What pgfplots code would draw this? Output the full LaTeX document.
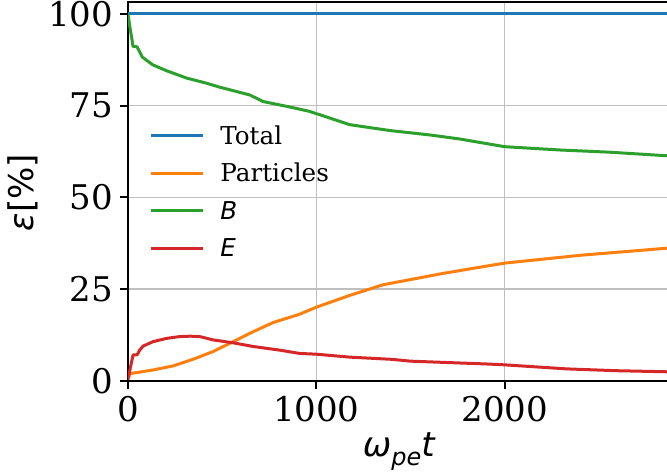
\documentclass[border=0pt]{standalone}
\usepackage{pgfplots}
\pgfplotsset{compat=1.18}
\usepackage{fontspec}
\setmainfont{DejaVu Serif}
\newfontfamily\dvs{DejaVu Sans}
\definecolor{tabblue}{HTML}{1F77B4}
\definecolor{taborange}{HTML}{FF7F0E}
\definecolor{tabgreen}{HTML}{2CA02C}
\definecolor{tabred}{HTML}{D62728}
\pgfplotsset{mylegimg/.style={legend image code/.code={\draw[##1, line width=1.5pt] (0pt,4.3pt) -- (26pt,4.3pt);}}}
\begin{document}
\begin{tikzpicture}
\begin{axis}[
  at={(0,0)}, anchor=south west,
  scale only axis, width=271pt, height=189.5pt,
  xmin=0, xmax=2878, ymin=0, ymax=103.2,
  xtick={0,1000,2000}, ytick={0,25,50,75,100},
  grid=major, grid style={color=black!25, line width=0.8pt},
  axis line style={line width=1.2pt, black},
  tick align=outside, major tick length=4pt,
  tick style={line width=1pt, black},
  tick pos=left,
  ticklabel style={font=\fontsize{17}{17}\selectfont},
  /pgf/number format/assume math mode=true,
  scaled x ticks=false,
  x tick label style={/pgf/number format/1000 sep={}},
  legend style={draw=none, fill=none, font=\fontsize{12.3}{12.3}\selectfont,
    at={(rel axis cs:0,1)}, anchor=north west, xshift=10.5pt, yshift=-62.3pt,
    inner sep=0pt, row sep=9.9pt, column sep=8pt,
    nodes={inner sep=0pt, text height=8.8pt, text depth=0pt, anchor=base west}},
  legend cell align=left,
  mylegimg,
  every axis plot/.append style={line width=1.5pt, line join=round},
]
\addplot[tabblue, no marks] coordinates {(0,100) (2870,100)};
\addlegendentry{Total}
\addplot[taborange, no marks] coordinates {
(0,0.5) (10,2) (133,3.0) (239,4.1) (345,5.9) (451,8.0) (558,10.7) (664,13.4)
(770,15.9) (912,18.2) (1000,20.1) (1177,23.3) (1354,26.2) (1673,29.3)
(2000,32.1) (2416,34.3) (2682,35.4) (2870,36.2)};
\addlegendentry{Particles}
\addplot[tabgreen, no marks] coordinates {
(0,100) (8,97) (27,91.1) (48,91) (76,88.2) (131,86.1) (204,84.5) (310,82.5)
(416,81.1) (487,80.0) (540,79.3) (646,77.9) (717,76.1) (860,74.6) (965,73.4)
(1177,69.8) (1390,68.2) (1602,67.0) (1761,65.9) (2000,63.8) (2293,62.9)
(2558,62.3) (2870,61.3)};
\addlegendentry{{\dvs\itshape B}}
\addplot[tabred, no marks] coordinates {
(0,0.5) (10,3) (27,7.1) (48,7.1) (62,8.4) (80,9.5) (133,10.7) (204,11.6)
(275,12.1) (330,12.2) (381,12.1) (451,11.2) (558,10.4) (664,9.4) (806,8.4)
(912,7.5) (1000,7.3) (1177,6.5) (1400,5.9) (1500,5.4) (1711,5.0) (1921,4.6)
(2000,4.4) (2328,3.3) (2594,2.8) (2870,2.5)};
\addlegendentry{{\dvs\itshape E}}
\end{axis}
\node[rotate=90, anchor=center, font=\fontsize{17}{17}\selectfont] at (-52.5pt,94.25pt) {{\dvs\itshape ε\upshape[\%]}};
\node[anchor=base, font=\fontsize{17}{17}\selectfont] at (135.4pt,-37.9pt) {{\dvs\itshape ω\raisebox{-0.25em}{\fontsize{12}{12}\selectfont pe}t}};
\pgfresetboundingbox
\path[use as bounding box] (-64pt,-46.5pt) rectangle (269.5pt,190.5pt);
\end{tikzpicture}
\end{document}
